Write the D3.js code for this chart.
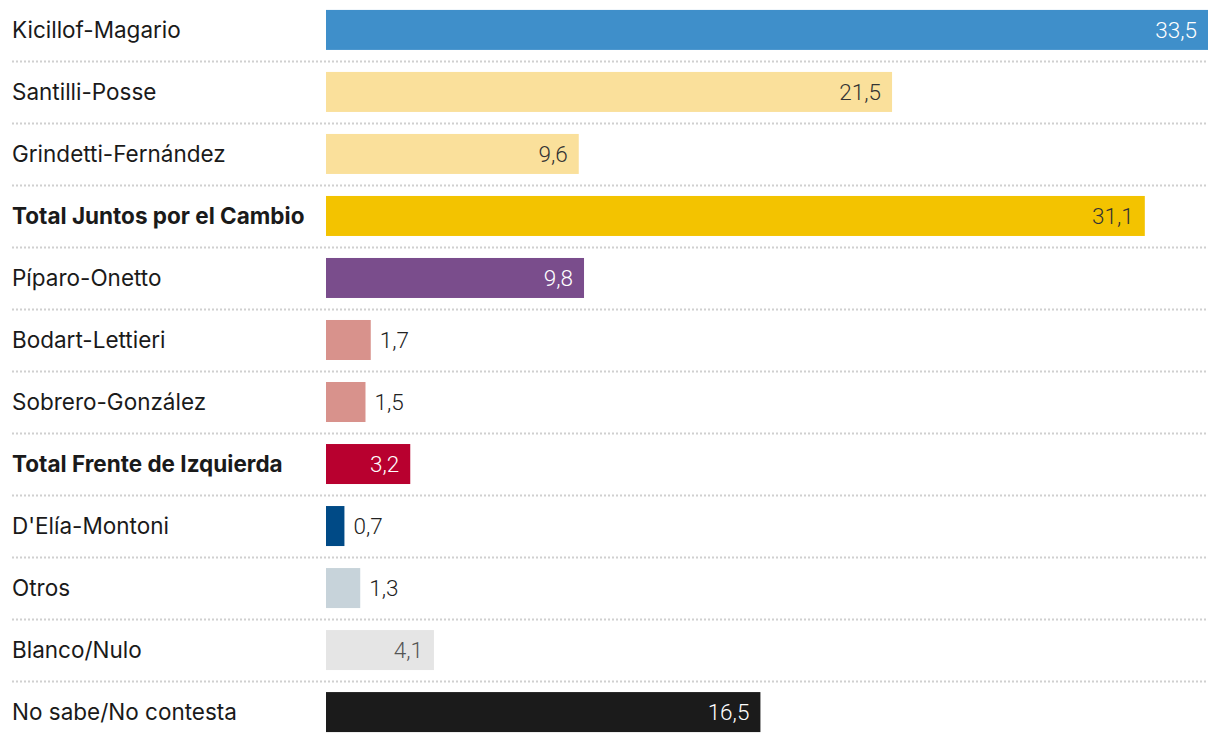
<!DOCTYPE html>
<html><head><meta charset="utf-8">
<script src="https://cdn.jsdelivr.net/npm/d3@7"></script>
<style>body{margin:0;background:#fff}</style>
</head><body>
<svg id="c" width="1220" height="742"></svg>
<script>
const categories = ["Kicillof-Magario","Santilli-Posse","Grindetti-Fernández","Total Juntos por el Cambio","Píparo-Onetto","Bodart-Lettieri","Sobrero-González","Total Frente de Izquierda","D'Elía-Montoni","Otros","Blanco/Nulo","No sabe/No contesta"];
const values = [33.5,21.5,9.6,31.1,9.8,1.7,1.5,3.2,0.7,1.3,4.1,16.5];
const valueLabels = ["33,5","21,5","9,6","31,1","9,8","1,7","1,5","3,2","0,7","1,3","4,1","16,5"];
const bold = [false,false,false,true,false,false,false,true,false,false,false,false];
const colors = ["#3f8fca","#fae09b","#fae09b","#f3c300","#7a4d8c","#d8928c","#d8928c","#b8002f","#004a86","#c7d3da","#e5e5e5","#1b1b1b"];
const textColors = ["#fff","#333","#333","#333","#fff","#222","#222","#fff","#222","#222","#555","#fff"];

const svg = d3.select("#c");
const x = d3.scaleLinear().domain([0,33.5]).range([326,1208]);
const y = d3.scaleBand().domain(categories).range([0,742]).paddingInner(0.355).paddingOuter(0.16);
const step = y.step();

svg.selectAll("line.sep").data(categories.slice(0,-1)).join("line")
  .attr("x1",12).attr("x2",1208)
  .attr("y1",d=>Math.round(y(d)+y.bandwidth()+(step-y.bandwidth())/2)+0.5)
  .attr("y2",d=>Math.round(y(d)+y.bandwidth()+(step-y.bandwidth())/2)+0.5)
  .attr("stroke","#d0d0d0").attr("stroke-width",2).attr("stroke-dasharray","2,2");

svg.selectAll("text.cat").data(categories).join("text")
  .attr("x",12).attr("y",d=>y(d)+y.bandwidth()/2)
  .attr("dy","0.36em")
  .attr("font-family","Inter, 'Noto Sans', sans-serif")
  .attr("font-size",22.5)
  .attr("font-weight",(d,i)=>bold[i]?700:400)
  .attr("fill","#1a1a1a")
  .text(d=>d);

svg.selectAll("rect.bar").data(values).join("rect")
  .attr("x",x(0)).attr("y",(d,i)=>y(categories[i]))
  .attr("width",d=>x(d)-x(0)).attr("height",y.bandwidth())
  .attr("fill",(d,i)=>colors[i]);

svg.selectAll("text.val").data(values).join("text")
  .attr("x",d=> d>=3 ? x(d)-11 : x(d)+9)
  .attr("y",(d,i)=>y(categories[i])+y.bandwidth()/2)
  .attr("dy","0.36em")
  .attr("text-anchor",d=> d>=3 ? "end":"start")
  .attr("font-family","Roboto, sans-serif")
  .attr("font-weight",300)
  .attr("font-size",22.5)
  .attr("fill",(d,i)=>textColors[i])
  .text((d,i)=>valueLabels[i]);
</script>
</body></html>
